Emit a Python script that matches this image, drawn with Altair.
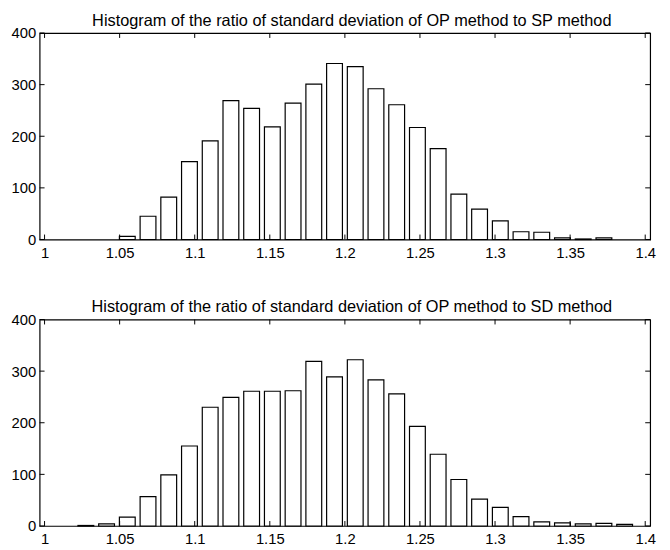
import altair as alt
import pandas as pd

# ---- data ----
centers_sp = [1.0551, 1.0689, 1.0827, 1.0965, 1.1103, 1.1241, 1.1379, 1.1517,
              1.1655, 1.1793, 1.1931, 1.2069, 1.2207, 1.2345, 1.2483, 1.2621,
              1.2759, 1.2897, 1.3035, 1.3173, 1.3311, 1.3449, 1.3587, 1.3725]
counts_sp = [6, 45, 82, 151, 191, 269, 254, 218, 264, 301, 341, 335,
             292, 261, 217, 176, 88, 59, 36, 15, 14, 3, 1, 3]

centers_sd = [1.0275, 1.0413, 1.0551, 1.0689, 1.0827, 1.0965, 1.1103, 1.1241,
              1.1379, 1.1517, 1.1655, 1.1793, 1.1931, 1.2069, 1.2207, 1.2345,
              1.2483, 1.2621, 1.2759, 1.2897, 1.3035, 1.3173, 1.3311, 1.3449,
              1.3587, 1.3725, 1.3863]
counts_sd = [1, 4, 17, 57, 99, 155, 230, 249, 261, 261, 262, 319, 289, 322,
             283, 256, 193, 139, 90, 52, 36, 18, 8, 6, 4, 5, 3]

x_ticks = [1.0, 1.05, 1.1, 1.15, 1.2, 1.25, 1.3, 1.35, 1.4]
y_ticks = [0, 100, 200, 300, 400]

title_sp = "Histogram of the ratio of standard deviation of OP method to SP method"
title_sd = "Histogram of the ratio of standard deviation of OP method to SD method"

W, H = 618, 209
TL = 5
FONT = "Liberation Sans"

xt = pd.DataFrame({"x": x_ticks})
yt = pd.DataFrame({"y": y_ticks})

xscale = alt.Scale(domain=[1.0, 1.4], nice=False, zero=False)
yscale = alt.Scale(domain=[0, 400], nice=False)

xaxis = alt.Axis(values=x_ticks, domain=False, ticks=False, grid=False,
                 labelExpr="format(datum.value, '~g')", labelFontSize=15,
                 labelFont=FONT, labelColor="black", labelPadding=6, title=None,
                 labelFlush=False)
yaxis = alt.Axis(values=y_ticks, domain=False, ticks=False, grid=False,
                 labelFontSize=15, labelFont=FONT, labelColor="black",
                 labelPadding=4, title=None, minExtent=31, maxExtent=31)


def panel(centers, counts, title):
    df = pd.DataFrame({"x": centers, "y": counts})
    bars = alt.Chart(df).mark_bar(fill="white", stroke="black", strokeWidth=1.2,
                                  size=16).encode(
        x=alt.X("x:Q", scale=xscale, axis=xaxis),
        y=alt.Y("y:Q", scale=yscale, axis=yaxis),
    )
    tb = alt.Chart(xt).mark_rule(color="black", strokeWidth=1).encode(
        x=alt.X("x:Q", scale=xscale), y=alt.value(H), y2=alt.value(H - TL))
    tt = alt.Chart(xt).mark_rule(color="black", strokeWidth=1).encode(
        x=alt.X("x:Q", scale=xscale), y=alt.value(0), y2=alt.value(TL))
    tlft = alt.Chart(yt).mark_rule(color="black", strokeWidth=1).encode(
        y=alt.Y("y:Q", scale=yscale), x=alt.value(0), x2=alt.value(TL))
    trgt = alt.Chart(yt).mark_rule(color="black", strokeWidth=1).encode(
        y=alt.Y("y:Q", scale=yscale), x=alt.value(W), x2=alt.value(W - TL))
    return alt.layer(bars, tb, tt, tlft, trgt).properties(
        width=W, height=H,
        title=alt.TitleParams(title, fontSize=16.5, font=FONT, fontWeight="normal",
                              color="black", offset=-3, anchor="middle", dx=7),
    )


chart = alt.vconcat(
    panel(centers_sp, counts_sp, title_sp),
    panel(centers_sd, counts_sd, title_sd),
    spacing=37,
).properties(
    padding={"left": 0, "top": 0, "right": 5, "bottom": 0}
).configure(
    background="white"
).configure_view(
    stroke="black", strokeWidth=1.2
)

chart.save("out.html", embed_options={"renderer": "svg", "actions": False})
